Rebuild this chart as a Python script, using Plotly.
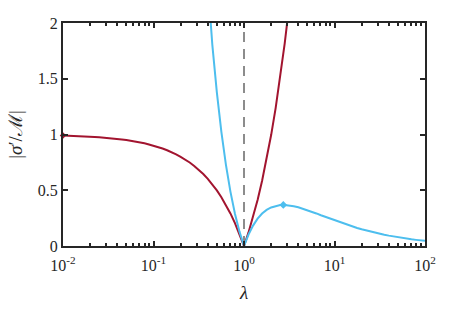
import plotly.graph_objects as go

# Red curve samples
red_lambda = [0.01, 0.01122, 0.01259, 0.01413, 0.01585, 0.01778, 0.01995, 0.02239, 0.02512, 0.02818,
              0.03162, 0.03548, 0.03981, 0.04467, 0.05012, 0.05623, 0.0631, 0.07079, 0.07943, 0.08913,
              0.1, 0.1122, 0.1259, 0.1413, 0.1585, 0.1778, 0.1995, 0.2239, 0.2512, 0.2818,
              0.3162, 0.3548, 0.3981, 0.4467, 0.5012, 0.5623, 0.631, 0.7079, 0.7943, 0.8913,
              1, 1.122, 1.259, 1.413, 1.585, 1.778, 1.995, 2.239, 2.512, 2.818, 3.162, 3.548]
red_values = [0.99, 0.989, 0.987, 0.986, 0.984, 0.982, 0.98, 0.978, 0.975, 0.972,
              0.968, 0.965, 0.96, 0.955, 0.95, 0.944, 0.937, 0.929, 0.921, 0.911,
              0.9, 0.888, 0.874, 0.859, 0.842, 0.822, 0.8, 0.776, 0.749, 0.718,
              0.684, 0.645, 0.602, 0.553, 0.499, 0.438, 0.369, 0.292, 0.206, 0.109,
              0, 0.122, 0.259, 0.413, 0.585, 0.778, 0.995, 1.239, 1.512, 1.818, 2.162, 2.548]

# Blue curve samples
blue_lambda = [0.3548, 0.3981, 0.4467, 0.5012, 0.5623, 0.631, 0.7079, 0.7943, 0.8913,
               1, 1.122, 1.259, 1.413, 1.585, 1.778, 1.995, 2.239, 2.512, 2.818,
               3.162, 3.548, 3.981, 4.467, 5.012, 5.623, 6.31, 7.079, 7.943, 8.913,
               10, 11.22, 12.59, 14.13, 15.85, 17.78, 19.95, 22.39, 25.12, 28.18,
               31.62, 35.48, 39.81, 44.67, 50.12, 56.23, 63.1, 70.79, 79.43, 89.13, 100]
blue_values = [2.92, 2.314, 1.804, 1.378, 1.024, 0.73, 0.488, 0.29, 0.129,
               0, 0.103, 0.183, 0.245, 0.291, 0.324, 0.346, 0.36, 0.367, 0.368,
               0.364, 0.357, 0.347, 0.335, 0.322, 0.307, 0.292, 0.276, 0.261, 0.245,
               0.23, 0.215, 0.201, 0.187, 0.174, 0.162, 0.15, 0.139, 0.128, 0.118,
               0.109, 0.101, 0.093, 0.085, 0.078, 0.072, 0.066, 0.06, 0.055, 0.05, 0.046]

# Highlighted points
red_marker_lambda = [0.01]
red_marker_value = [0.99]
blue_marker_lambda = [2.718]
blue_marker_value = [0.368]

# Reference line
ref_lambda = [1, 1]
ref_values = [0, 2]

x_tickvals = [0.01, 0.1, 1, 10, 100]
x_ticktext = ["10<sup>-2</sup>", "10<sup>-1</sup>", "10<sup>0</sup>", "10<sup>1</sup>", "10<sup>2</sup>"]
y_tickvals = [0, 0.5, 1, 1.5, 2]
y_ticktext = ["0", "0.5", "1", "1.5", "2"]

RED = "#A2142F"
BLUE = "#4DBEEE"
AX = "#262626"
FONT = "'Liberation Serif', 'DejaVu Serif', serif"

fig = go.Figure()
fig.add_trace(go.Scatter(x=ref_lambda, y=ref_values, mode="lines",
                         line=dict(color="#8c8c8c", width=2, dash="10px,7px"), showlegend=False))
fig.add_trace(go.Scatter(x=red_lambda, y=red_values, mode="lines",
                         line=dict(color=RED, width=2), showlegend=False))
fig.add_trace(go.Scatter(x=blue_lambda, y=blue_values, mode="lines",
                         line=dict(color=BLUE, width=2), showlegend=False))
fig.add_trace(go.Scatter(x=red_marker_lambda, y=red_marker_value, mode="markers",
                         marker=dict(color=RED, size=5, symbol="diamond"), showlegend=False, cliponaxis=False))
fig.add_trace(go.Scatter(x=blue_marker_lambda, y=blue_marker_value, mode="markers",
                         marker=dict(color=BLUE, size=6, symbol="diamond"), showlegend=False))

fig.update_layout(
    width=469, height=313,
    margin=dict(l=63, r=44, t=23, b=67),
    paper_bgcolor="white", plot_bgcolor="white",
    font=dict(family=FONT, size=16, color=AX),
    xaxis=dict(type="log", range=[-2, 2], tickvals=x_tickvals, ticktext=x_ticktext,
               ticks="inside", ticklen=5, tickwidth=1.5, tickcolor=AX,
               showline=True, linecolor=AX, linewidth=2, mirror="ticks",
               showgrid=False, zeroline=False, ticklabelstandoff=4,
               tickfont=dict(family=FONT, size=16),
               minor=dict(ticks="inside", ticklen=3, tickwidth=1.5, tickcolor=AX, dtick="D1", showgrid=False),
               title=dict(text="<i>λ</i>", standoff=12, font=dict(family=FONT, size=19))),
    yaxis=dict(range=[0, 2], tickvals=y_tickvals, ticktext=y_ticktext,
               ticks="inside", ticklen=5, tickwidth=1.5, tickcolor=AX,
               showline=True, linecolor=AX, linewidth=2, mirror="ticks",
               showgrid=False, zeroline=False,
               tickfont=dict(family=FONT, size=16),
               title=dict(text="|<i>σ</i>′/ℳ|", standoff=10, font=dict(family=FONT, size=19))),
)

fig.write_html("out.html", config={"displayModeBar": False},
               post_script="document.body.style.margin='0';")
